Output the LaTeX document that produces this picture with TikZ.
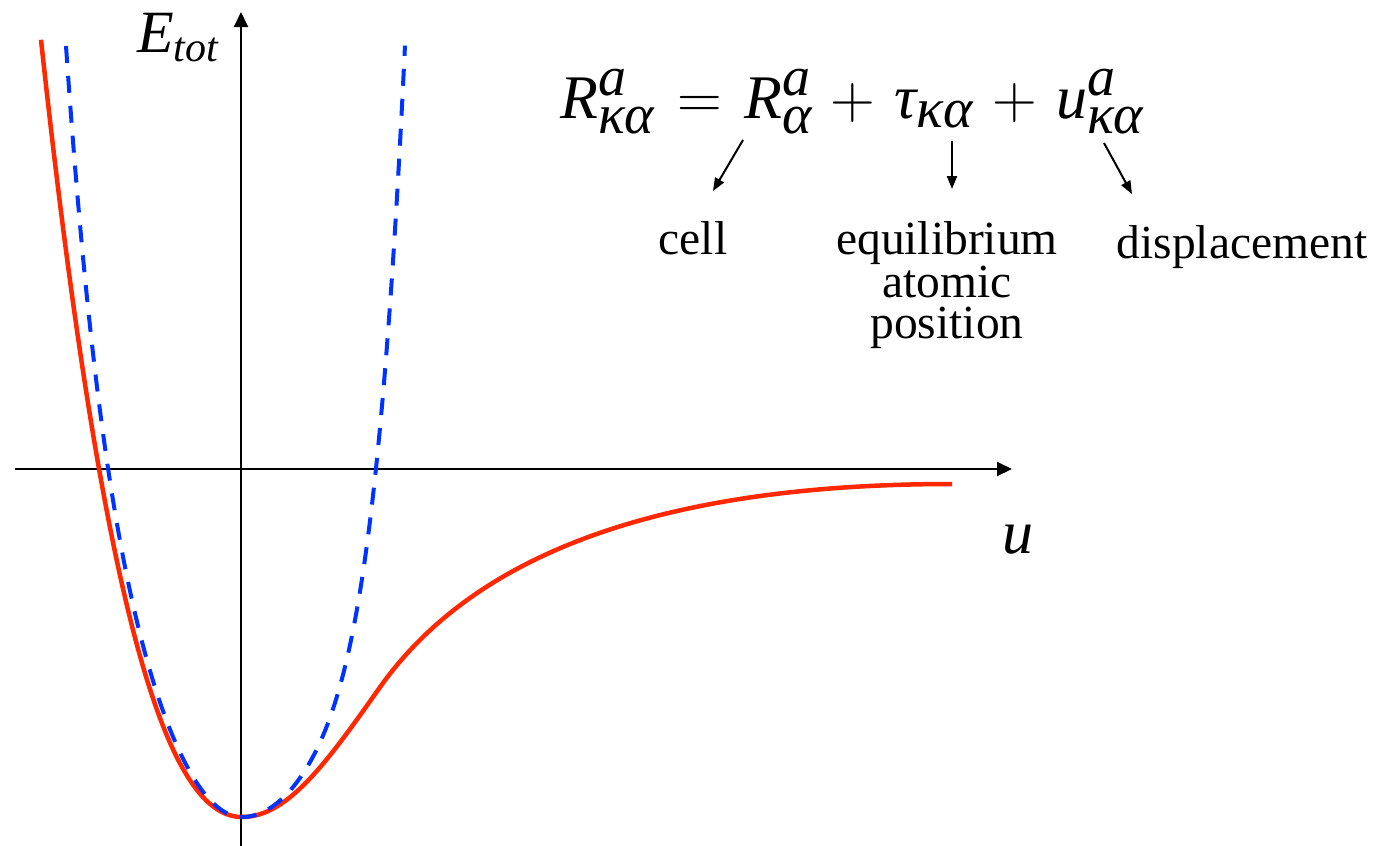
\documentclass[tikz,border=0pt]{standalone}
\usepackage{fix-cm}
\usepackage{amsmath}
\usepackage{fontspec}
\setmainfont{Liberation Serif}
\usetikzlibrary{arrows.meta}
\DeclareMathSizes{62}{62}{56}{44}
\definecolor{curvered}{RGB}{255,40,0}
\definecolor{curveblue}{RGB}{0,51,255}
\newcommand{\itx}[1]{\text{\itshape #1}}
\newcommand{\widespacing}{\medmuskip=5.5mu\relax\thickmuskip=6.5mu\relax}
\begin{document}
\begin{tikzpicture}[x=1pt,y=-1pt,
  axisline/.style={line width=2pt,-{Triangle[length=15pt,width=14pt]}},
  labelarrow/.style={line width=2pt,-{Triangle[length=13pt,width=10pt]}},
  mathtext/.style={inner sep=0pt,font=\fontsize{62}{70}\selectfont},
  axislabel/.style={inner sep=0pt,font=\fontsize{60}{70}\selectfont},
  wordtext/.style={inner sep=0pt,anchor=base,font=\fontsize{47.5}{42}\selectfont},
  morse/.style={curvered,line width=4.5pt,line join=round},
  harmonic/.style={curveblue,line width=4pt,dash pattern=on 17pt off 13pt}]
\useasboundingbox (0,0) rectangle (1387,846);
% axes
\coordinate (ybot) at (241,846);
\coordinate (ytop) at (241,12);
\coordinate (xleft) at (15,469);
\coordinate (xright) at (1012,469);
\draw[axisline] (ybot) -- (ytop);
\draw[axisline] (xleft) -- (xright);
% curves
\draw[morse] plot[domain=-2.01:0,samples=90,smooth] ({242+100*\x},{817-116*\x*\x+38*\x*\x*\x})
  .. controls (287,817) and (325,765) .. (378,690)
  .. controls (458,575) and (620,484) .. (952,484);
\draw[harmonic] plot[domain=-1.76:0,samples=70,smooth] ({242+100*\x},{817-166.7*\x*\x-8.57*\x*\x*\x*\x*\x*\x})
  -- plot[domain=0:1.63,samples=70,smooth] ({242+100*\x},{817-113.3*\x*\x-25.1*\x*\x*\x*\x*\x*\x});
% labels
\node[axislabel,anchor=base west] (etot) at (137,52) {$\itx{E}_{\itx{tot}}$};
\node[mathtext,anchor=base west] (ulab) at (1002,553) {$\itx{u}$};
\node[mathtext,anchor=base west] (eq) at (560,118) {$\widespacing\itx{R}^{\itx{a}}_{\itx{κα}}=\itx{R}^{\itx{a}}_{\itx{α}}+\itx{τ}_{\itx{κα}}+\itx{u}^{\itx{a}}_{\itx{κα}}$};
\node[wordtext] (cell) at (693,254) {cell};
\node[wordtext] (equil) at (947,254) {equilibrium};
\node[wordtext] (atomic) at (947,297) {atomic};
\node[wordtext] (position) at (947,338) {position};
\node[wordtext] (disp) at (1242,258) {displacement};
% arrows
\coordinate (a1s) at (743,140);
\coordinate (a1e) at (713,191);
\coordinate (a2s) at (952,141);
\coordinate (a2e) at (952,189);
\coordinate (a3s) at (1104,143);
\coordinate (a3e) at (1132,194);
\draw[labelarrow] (a1s) -- (a1e);
\draw[labelarrow] (a2s) -- (a2e);
\draw[labelarrow] (a3s) -- (a3e);
\end{tikzpicture}
\end{document}
